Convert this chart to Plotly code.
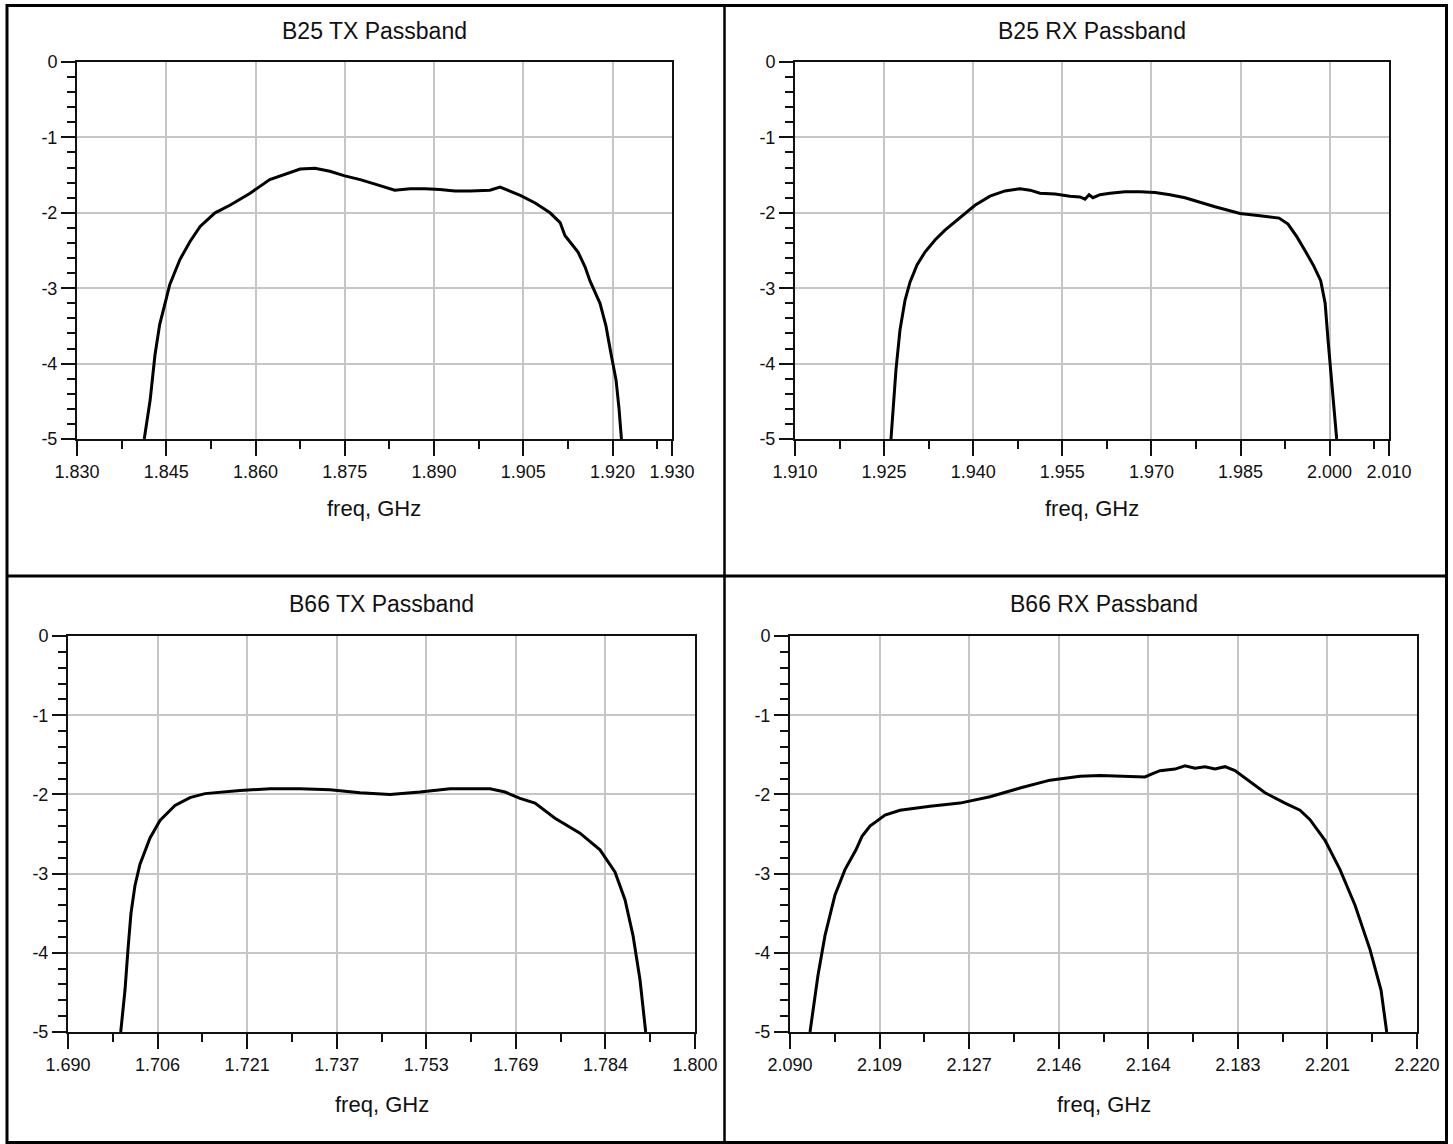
import numpy as np
import plotly.graph_objects as go

W, H = 1453, 1144

# ---------------- data ----------------
b25tx_freq = [1.8413, 1.8423, 1.8431, 1.8439, 1.8448, 1.8456, 1.8473, 1.8490, 1.8507, 1.8532,
              1.8557, 1.8591, 1.8624, 1.8658, 1.8675, 1.8700, 1.8725, 1.8750, 1.8776, 1.8801,
              1.8823, 1.8834, 1.8860, 1.8885, 1.8910, 1.8935, 1.8961, 1.8994, 1.9011, 1.9023,
              1.9045, 1.9070, 1.9095, 1.9112, 1.9120, 1.9132, 1.9142, 1.9154, 1.9162, 1.9179,
              1.9189, 1.9197, 1.9206, 1.9211, 1.9215]
b25tx_db = [-5.00, -4.48, -3.89, -3.48, -3.20, -2.95, -2.62, -2.38, -2.18, -2.00,
            -1.90, -1.74, -1.56, -1.46, -1.42, -1.41, -1.45, -1.51, -1.56, -1.62,
            -1.67, -1.70, -1.68, -1.68, -1.69, -1.71, -1.71, -1.70, -1.66, -1.70,
            -1.77, -1.87, -2.00, -2.13, -2.30, -2.42, -2.52, -2.72, -2.90, -3.20,
            -3.50, -3.85, -4.22, -4.60, -5.00]

b25rx_freq = [1.92616, 1.92650, 1.92700, 1.92768, 1.92852, 1.92936, 1.93054, 1.93189, 1.93357, 1.93525,
              1.93778, 1.94030, 1.94283, 1.94535, 1.94788, 1.94956, 1.95125, 1.95377, 1.95630, 1.95798,
              1.95882, 1.95950, 1.96017, 1.96135, 1.96303, 1.96556, 1.96808, 1.97061, 1.97313, 1.97566,
              1.98071, 1.98492, 1.98828, 1.99150, 1.99300, 1.99450, 1.99600, 1.99730, 1.99850, 1.99925,
              1.99975, 2.00035, 2.00119]
b25rx_db = [-5.00, -4.62, -4.08, -3.55, -3.16, -2.92, -2.69, -2.52, -2.36, -2.23,
            -2.06, -1.90, -1.78, -1.71, -1.68, -1.70, -1.74, -1.75, -1.78, -1.79,
            -1.82, -1.76, -1.80, -1.76, -1.74, -1.72, -1.72, -1.73, -1.76, -1.80,
            -1.92, -2.01, -2.04, -2.07, -2.15, -2.32, -2.52, -2.70, -2.90, -3.20,
            -3.70, -4.22, -5.00]

b66tx_freq = [1.69925, 1.70000, 1.70053, 1.70105, 1.70175, 1.70263, 1.70439, 1.70614, 1.70877, 1.71140,
              1.71404, 1.71750, 1.72018, 1.72544, 1.73070, 1.73596, 1.74123, 1.74649, 1.75175, 1.75702,
              1.76404, 1.76667, 1.76930, 1.77193, 1.77544, 1.77982, 1.78333, 1.78596, 1.78772, 1.78912,
              1.79035, 1.79135]
b66tx_db = [-5.00, -4.47, -3.95, -3.50, -3.15, -2.88, -2.55, -2.33, -2.14, -2.04,
            -1.99, -1.97, -1.95, -1.93, -1.93, -1.94, -1.98, -2.00, -1.97, -1.93,
            -1.93, -1.97, -2.05, -2.11, -2.30, -2.49, -2.70, -2.98, -3.33, -3.78,
            -4.34, -5.00]

b66rx_freq = [2.09415, 2.09581, 2.09726, 2.09933, 2.10140, 2.10244, 2.10368, 2.10493, 2.10659, 2.10970,
              2.11281, 2.11903, 2.12525, 2.13147, 2.13769, 2.14391, 2.15013, 2.15428, 2.15842, 2.16361,
              2.16506, 2.16672, 2.16983, 2.17190, 2.17397, 2.17605, 2.17812, 2.18019, 2.18226, 2.18538,
              2.18849, 2.19263, 2.19574, 2.19782, 2.20093, 2.20404, 2.20715, 2.21026, 2.21254, 2.21372]
b66rx_db = [-5.00, -4.28, -3.78, -3.27, -2.95, -2.83, -2.70, -2.53, -2.40, -2.26,
            -2.20, -2.15, -2.11, -2.03, -1.92, -1.82, -1.77, -1.76, -1.77, -1.78,
            -1.74, -1.70, -1.68, -1.64, -1.67, -1.65, -1.68, -1.65, -1.70, -1.84,
            -1.98, -2.11, -2.20, -2.32, -2.58, -2.95, -3.40, -3.96, -4.47, -5.00]

titles = ["B25 TX Passband", "B25 RX Passband", "B66 TX Passband", "B66 RX Passband"]
x_label = "freq, GHz"

b25tx_xticks = ["1.830", "1.845", "1.860", "1.875", "1.890", "1.905", "1.920", "1.930"]
b25rx_xticks = ["1.910", "1.925", "1.940", "1.955", "1.970", "1.985", "2.000", "2.010"]
b66tx_xticks = ["1.690", "1.706", "1.721", "1.737", "1.753", "1.769", "1.784", "1.800"]
b66rx_xticks = ["2.090", "2.109", "2.127", "2.146", "2.164", "2.183", "2.201", "2.220"]
y_ticks = ["0", "-1", "-2", "-3", "-4", "-5"]

# ---------------- layout helpers ----------------
FONT = "Liberation Sans, Arial, sans-serif"
INK = "#111111"
GRID = "#c6c6c6"


def top_ticks(labels, step):
    major = [float(t) for t in labels]
    lo, hi = major[0], major[-1]
    minor = list(np.arange(lo + step / 2, hi, step))
    return major, minor, [lo, hi]


def even_ticks(labels):
    lo, hi = float(labels[0]), float(labels[-1])
    major = list(np.linspace(lo, hi, len(labels)))
    d = major[1] - major[0]
    minor = [m + d / 2 for m in major[:-1]]
    return major, minor, [lo, hi]


panels = [
    dict(f=b25tx_freq, v=b25tx_db, ticks=b25tx_xticks, tk=top_ticks(b25tx_xticks, 0.015),
         box=(77, 672, 62, 439), title_y=31, label_y=508),
    dict(f=b25rx_freq, v=b25rx_db, ticks=b25rx_xticks, tk=top_ticks(b25rx_xticks, 0.015),
         box=(795, 1389, 62, 439), title_y=31, label_y=508),
    dict(f=b66tx_freq, v=b66tx_db, ticks=b66tx_xticks, tk=even_ticks(b66tx_xticks),
         box=(68, 695, 636, 1032), title_y=604, label_y=1104),
    dict(f=b66rx_freq, v=b66rx_db, ticks=b66rx_xticks, tk=even_ticks(b66rx_xticks),
         box=(790, 1417, 636, 1032), title_y=604, label_y=1104),
]

fig = go.Figure()
layout = dict(width=W, height=H, autosize=False,
              margin=dict(l=0, r=0, t=0, b=0, pad=0, autoexpand=False),
              paper_bgcolor="white", plot_bgcolor="white", showlegend=False,
              font=dict(family=FONT, color=INK))
annotations = []
y_major = [float(t) for t in y_ticks]
y_minor = [round(-x * 0.2, 3) for x in range(26) if x % 5 != 0]

for i, p in enumerate(panels):
    n = "" if i == 0 else str(i + 1)
    l, r, t, b = p["box"]
    major, minor, xr = p["tk"]
    fig.add_trace(go.Scatter(x=p["f"], y=p["v"], mode="lines",
                             line=dict(color="black", width=3),
                             xaxis="x" + n, yaxis="y" + n, hoverinfo="skip"))
    layout["xaxis" + n] = dict(
        domain=[l / W, r / W], range=xr, anchor="y" + n, automargin=False,
        tickmode="array", tickvals=major, ticktext=p["ticks"],
        ticks="outside", ticklen=15, tickwidth=2, tickcolor=INK,
        showline=True, linecolor=INK, linewidth=2, mirror=True,
        showgrid=True, gridcolor=GRID, gridwidth=1.5, zeroline=False,
        tickfont=dict(family=FONT, size=18, color=INK),
        minor=dict(tickmode="array", tickvals=minor, ticks="outside", ticklen=8,
                   tickwidth=1.5, tickcolor=INK, showgrid=False),
        fixedrange=True)
    layout["yaxis" + n] = dict(
        domain=[1 - b / H, 1 - t / H], range=[-5, 0], anchor="x" + n, automargin=False,
        tickmode="array", tickvals=y_major, ticktext=y_ticks,
        ticks="outside", ticklen=14, tickwidth=2, tickcolor=INK,
        showline=True, linecolor=INK, linewidth=2, mirror=True,
        showgrid=True, gridcolor=GRID, gridwidth=1.5, zeroline=False,
        tickfont=dict(family=FONT, size=18, color=INK),
        minor=dict(tickmode="array", tickvals=y_minor, ticks="outside", ticklen=8,
                   tickwidth=1.5, tickcolor=INK, showgrid=False),
        fixedrange=True)
    cx = (l + r) / 2 / W
    annotations.append(dict(text=titles[i], x=cx, y=1 - p["title_y"] / H, xref="paper", yref="paper",
                            xanchor="center", yanchor="middle", showarrow=False,
                            font=dict(family=FONT, size=23, color=INK)))
    annotations.append(dict(text=x_label, x=cx, y=1 - p["label_y"] / H, xref="paper", yref="paper",
                            xanchor="center", yanchor="middle", showarrow=False,
                            font=dict(family=FONT, size=22, color=INK)))

shapes = []
def hline(y, x0, x1, w):
    shapes.append(dict(type="line", xref="paper", yref="paper", x0=x0 / W, x1=x1 / W,
                       y0=1 - y / H, y1=1 - y / H, line=dict(color="black", width=w)))
def vline(x, y0, y1, w):
    shapes.append(dict(type="line", xref="paper", yref="paper", x0=x / W, x1=x / W,
                       y0=1 - y0 / H, y1=1 - y1 / H, line=dict(color="black", width=w)))

hline(5.5, 6, 1448, 3)
hline(1142.5, 6, 1448, 3)
vline(7, 4, 1144, 3)
vline(1446.5, 4, 1144, 3)
vline(724.5, 5, 1144, 2.5)
hline(576, 6, 1448, 3)

layout["annotations"] = annotations
layout["shapes"] = shapes
fig.update_layout(**layout)

fig.write_html("out.html")
